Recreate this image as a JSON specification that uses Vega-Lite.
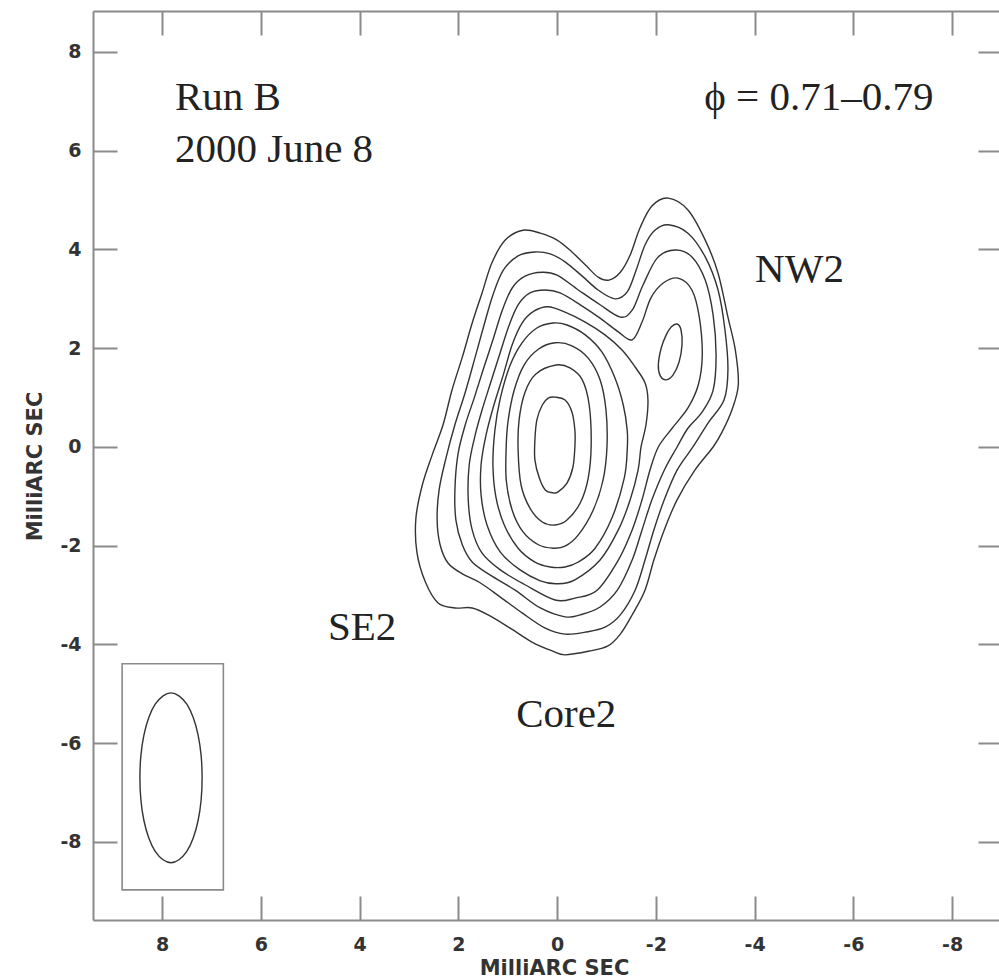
{
  "$schema": "https://vega.github.io/schema/vega-lite/v6.json",
  "width": 906,
  "height": 909,
  "autosize": {"type": "none"},
  "padding": {"left": 93, "top": 11, "right": 0, "bottom": 60},
  "background": "white",
  "config": {"view": {"stroke": null}},
  "datasets": {
    "curves": [
      {"c":"C1","i":1,"x":0.69,"y":4.39},{"c":"C1","i":2,"x":0.34,"y":4.33},{"c":"C1","i":3,"x":0.00,"y":4.19},{"c":"C1","i":4,"x":-0.30,"y":3.95},{"c":"C1","i":5,"x":-0.59,"y":3.67},{"c":"C1","i":6,"x":-0.83,"y":3.44},{"c":"C1","i":7,"x":-1.05,"y":3.38},{"c":"C1","i":8,"x":-1.28,"y":3.54},{"c":"C1","i":9,"x":-1.48,"y":3.89},{"c":"C1","i":10,"x":-1.68,"y":4.44},{"c":"C1","i":11,"x":-1.92,"y":4.88},{"c":"C1","i":12,"x":-2.25,"y":5.04},{"c":"C1","i":13,"x":-2.65,"y":4.80},{"c":"C1","i":14,"x":-3.00,"y":4.19},{"c":"C1","i":15,"x":-3.26,"y":3.52},{"c":"C1","i":16,"x":-3.46,"y":2.63},{"c":"C1","i":17,"x":-3.61,"y":1.96},{"c":"C1","i":18,"x":-3.67,"y":1.26},{"c":"C1","i":19,"x":-3.54,"y":0.75},{"c":"C1","i":20,"x":-3.34,"y":0.30},{"c":"C1","i":21,"x":-3.16,"y":0.00},{"c":"C1","i":22,"x":-2.79,"y":-0.47},{"c":"C1","i":23,"x":-2.43,"y":-1.07},{"c":"C1","i":24,"x":-2.17,"y":-1.68},{"c":"C1","i":25,"x":-1.96,"y":-2.29},{"c":"C1","i":26,"x":-1.78,"y":-2.90},{"c":"C1","i":27,"x":-1.52,"y":-3.40},{"c":"C1","i":28,"x":-1.28,"y":-3.79},{"c":"C1","i":29,"x":-1.03,"y":-4.03},{"c":"C1","i":30,"x":-0.67,"y":-4.13},{"c":"C1","i":31,"x":-0.16,"y":-4.21},{"c":"C1","i":32,"x":0.10,"y":-4.13},{"c":"C1","i":33,"x":0.51,"y":-3.95},{"c":"C1","i":34,"x":0.95,"y":-3.67},{"c":"C1","i":35,"x":1.36,"y":-3.42},{"c":"C1","i":36,"x":1.72,"y":-3.26},{"c":"C1","i":37,"x":2.07,"y":-3.26},{"c":"C1","i":38,"x":2.41,"y":-3.16},{"c":"C1","i":39,"x":2.67,"y":-2.73},{"c":"C1","i":40,"x":2.84,"y":-2.13},{"c":"C1","i":41,"x":2.86,"y":-1.44},{"c":"C1","i":42,"x":2.73,"y":-0.77},{"c":"C1","i":43,"x":2.53,"y":-0.16},{"c":"C1","i":44,"x":2.31,"y":0.45},{"c":"C1","i":45,"x":2.13,"y":1.15},{"c":"C1","i":46,"x":1.92,"y":1.82},{"c":"C1","i":47,"x":1.72,"y":2.51},{"c":"C1","i":48,"x":1.52,"y":3.12},{"c":"C1","i":49,"x":1.32,"y":3.73},{"c":"C1","i":50,"x":1.05,"y":4.19},
      {"c":"C2","i":1,"x":0.45,"y":3.95},{"c":"C2","i":2,"x":0.14,"y":3.91},{"c":"C2","i":3,"x":-0.16,"y":3.75},{"c":"C2","i":4,"x":-0.51,"y":3.46},{"c":"C2","i":5,"x":-0.83,"y":3.18},{"c":"C2","i":6,"x":-1.17,"y":3.00},{"c":"C2","i":7,"x":-1.42,"y":3.14},{"c":"C2","i":8,"x":-1.60,"y":3.58},{"c":"C2","i":9,"x":-1.78,"y":4.09},{"c":"C2","i":10,"x":-1.98,"y":4.39},{"c":"C2","i":11,"x":-2.25,"y":4.50},{"c":"C2","i":12,"x":-2.65,"y":4.33},{"c":"C2","i":13,"x":-3.00,"y":3.85},{"c":"C2","i":14,"x":-3.26,"y":3.18},{"c":"C2","i":15,"x":-3.40,"y":2.37},{"c":"C2","i":16,"x":-3.46,"y":1.56},{"c":"C2","i":17,"x":-3.38,"y":0.95},{"c":"C2","i":18,"x":-3.06,"y":0.49},{"c":"C2","i":19,"x":-2.75,"y":0.00},{"c":"C2","i":20,"x":-2.43,"y":-0.47},{"c":"C2","i":21,"x":-2.17,"y":-1.07},{"c":"C2","i":22,"x":-1.96,"y":-1.68},{"c":"C2","i":23,"x":-1.78,"y":-2.29},{"c":"C2","i":24,"x":-1.58,"y":-2.90},{"c":"C2","i":25,"x":-1.28,"y":-3.40},{"c":"C2","i":26,"x":-0.97,"y":-3.65},{"c":"C2","i":27,"x":-0.57,"y":-3.75},{"c":"C2","i":28,"x":-0.16,"y":-3.79},{"c":"C2","i":29,"x":0.24,"y":-3.67},{"c":"C2","i":30,"x":0.71,"y":-3.36},{"c":"C2","i":31,"x":1.15,"y":-3.04},{"c":"C2","i":32,"x":1.56,"y":-2.75},{"c":"C2","i":33,"x":1.92,"y":-2.57},{"c":"C2","i":34,"x":2.21,"y":-2.35},{"c":"C2","i":35,"x":2.37,"y":-1.98},{"c":"C2","i":36,"x":2.43,"y":-1.48},{"c":"C2","i":37,"x":2.39,"y":-0.87},{"c":"C2","i":38,"x":2.25,"y":-0.22},{"c":"C2","i":39,"x":2.07,"y":0.45},{"c":"C2","i":40,"x":1.86,"y":1.11},{"c":"C2","i":41,"x":1.66,"y":1.82},{"c":"C2","i":42,"x":1.48,"y":2.47},{"c":"C2","i":43,"x":1.30,"y":3.08},{"c":"C2","i":44,"x":1.09,"y":3.58},{"c":"C2","i":45,"x":0.79,"y":3.87},
      {"c":"C3","i":1,"x":0.30,"y":3.54},{"c":"C3","i":2,"x":0.00,"y":3.48},{"c":"C3","i":3,"x":-0.43,"y":3.18},{"c":"C3","i":4,"x":-0.87,"y":2.88},{"c":"C3","i":5,"x":-1.28,"y":2.63},{"c":"C3","i":6,"x":-1.52,"y":2.77},{"c":"C3","i":7,"x":-1.74,"y":3.28},{"c":"C3","i":8,"x":-2.03,"y":3.83},{"c":"C3","i":9,"x":-2.39,"y":3.99},{"c":"C3","i":10,"x":-2.73,"y":3.85},{"c":"C3","i":11,"x":-3.00,"y":3.38},{"c":"C3","i":12,"x":-3.16,"y":2.67},{"c":"C3","i":13,"x":-3.22,"y":1.86},{"c":"C3","i":14,"x":-3.16,"y":1.15},{"c":"C3","i":15,"x":-2.94,"y":0.71},{"c":"C3","i":16,"x":-2.65,"y":0.38},{"c":"C3","i":17,"x":-2.43,"y":0.00},{"c":"C3","i":18,"x":-2.17,"y":-0.47},{"c":"C3","i":19,"x":-1.92,"y":-1.07},{"c":"C3","i":20,"x":-1.72,"y":-1.68},{"c":"C3","i":21,"x":-1.52,"y":-2.29},{"c":"C3","i":22,"x":-1.22,"y":-2.90},{"c":"C3","i":23,"x":-0.87,"y":-3.24},{"c":"C3","i":24,"x":-0.47,"y":-3.40},{"c":"C3","i":25,"x":-0.16,"y":-3.44},{"c":"C3","i":26,"x":0.34,"y":-3.26},{"c":"C3","i":27,"x":0.85,"y":-2.90},{"c":"C3","i":28,"x":1.36,"y":-2.59},{"c":"C3","i":29,"x":1.72,"y":-2.33},{"c":"C3","i":30,"x":1.92,"y":-1.98},{"c":"C3","i":31,"x":2.05,"y":-1.48},{"c":"C3","i":32,"x":2.07,"y":-0.87},{"c":"C3","i":33,"x":2.01,"y":-0.16},{"c":"C3","i":34,"x":1.86,"y":0.45},{"c":"C3","i":35,"x":1.68,"y":0.99},{"c":"C3","i":36,"x":1.50,"y":1.56},{"c":"C3","i":37,"x":1.30,"y":2.17},{"c":"C3","i":38,"x":1.11,"y":2.77},{"c":"C3","i":39,"x":0.91,"y":3.22},{"c":"C3","i":40,"x":0.65,"y":3.46},
      {"c":"C4","i":1,"x":0.24,"y":3.18},{"c":"C4","i":2,"x":-0.06,"y":3.12},{"c":"C4","i":3,"x":-0.47,"y":2.88},{"c":"C4","i":4,"x":-0.87,"y":2.61},{"c":"C4","i":5,"x":-1.24,"y":2.33},{"c":"C4","i":6,"x":-1.52,"y":2.17},{"c":"C4","i":7,"x":-1.72,"y":2.53},{"c":"C4","i":8,"x":-1.90,"y":3.02},{"c":"C4","i":9,"x":-2.15,"y":3.32},{"c":"C4","i":10,"x":-2.45,"y":3.42},{"c":"C4","i":11,"x":-2.73,"y":3.18},{"c":"C4","i":12,"x":-2.88,"y":2.63},{"c":"C4","i":13,"x":-2.94,"y":1.86},{"c":"C4","i":14,"x":-2.86,"y":1.26},{"c":"C4","i":15,"x":-2.65,"y":0.79},{"c":"C4","i":16,"x":-2.33,"y":0.38},{"c":"C4","i":17,"x":-2.05,"y":0.00},{"c":"C4","i":18,"x":-1.88,"y":-0.47},{"c":"C4","i":19,"x":-1.72,"y":-1.07},{"c":"C4","i":20,"x":-1.52,"y":-1.68},{"c":"C4","i":21,"x":-1.24,"y":-2.29},{"c":"C4","i":22,"x":-0.81,"y":-2.90},{"c":"C4","i":23,"x":-0.36,"y":-3.06},{"c":"C4","i":24,"x":0.04,"y":-3.10},{"c":"C4","i":25,"x":0.65,"y":-2.79},{"c":"C4","i":26,"x":1.15,"y":-2.49},{"c":"C4","i":27,"x":1.52,"y":-2.15},{"c":"C4","i":28,"x":1.72,"y":-1.68},{"c":"C4","i":29,"x":1.80,"y":-1.07},{"c":"C4","i":30,"x":1.78,"y":-0.36},{"c":"C4","i":31,"x":1.66,"y":0.24},{"c":"C4","i":32,"x":1.52,"y":0.75},{"c":"C4","i":33,"x":1.36,"y":1.26},{"c":"C4","i":34,"x":1.15,"y":1.92},{"c":"C4","i":35,"x":0.97,"y":2.47},{"c":"C4","i":36,"x":0.79,"y":2.88},{"c":"C4","i":37,"x":0.55,"y":3.12},
      {"c":"C5","i":1,"x":0.18,"y":2.84},{"c":"C5","i":2,"x":-0.16,"y":2.73},{"c":"C5","i":3,"x":-0.57,"y":2.53},{"c":"C5","i":4,"x":-0.97,"y":2.27},{"c":"C5","i":5,"x":-1.32,"y":1.96},{"c":"C5","i":6,"x":-1.58,"y":1.62},{"c":"C5","i":7,"x":-1.78,"y":1.30},{"c":"C5","i":8,"x":-1.84,"y":0.95},{"c":"C5","i":9,"x":-1.80,"y":0.45},{"c":"C5","i":10,"x":-1.70,"y":0.00},{"c":"C5","i":11,"x":-1.64,"y":-0.47},{"c":"C5","i":12,"x":-1.48,"y":-1.07},{"c":"C5","i":13,"x":-1.24,"y":-1.68},{"c":"C5","i":14,"x":-0.87,"y":-2.29},{"c":"C5","i":15,"x":-0.36,"y":-2.69},{"c":"C5","i":16,"x":0.00,"y":-2.77},{"c":"C5","i":17,"x":0.34,"y":-2.71},{"c":"C5","i":18,"x":0.75,"y":-2.49},{"c":"C5","i":19,"x":1.15,"y":-2.13},{"c":"C5","i":20,"x":1.42,"y":-1.58},{"c":"C5","i":21,"x":1.54,"y":-0.97},{"c":"C5","i":22,"x":1.54,"y":-0.36},{"c":"C5","i":23,"x":1.44,"y":0.24},{"c":"C5","i":24,"x":1.28,"y":0.85},{"c":"C5","i":25,"x":1.09,"y":1.46},{"c":"C5","i":26,"x":0.91,"y":2.07},{"c":"C5","i":27,"x":0.71,"y":2.51},{"c":"C5","i":28,"x":0.47,"y":2.75},
      {"c":"C6","i":1,"x":0.08,"y":2.51},{"c":"C6","i":2,"x":-0.20,"y":2.47},{"c":"C6","i":3,"x":-0.57,"y":2.27},{"c":"C6","i":4,"x":-0.91,"y":1.92},{"c":"C6","i":5,"x":-1.17,"y":1.40},{"c":"C6","i":6,"x":-1.34,"y":0.85},{"c":"C6","i":7,"x":-1.42,"y":0.34},{"c":"C6","i":8,"x":-1.42,"y":-0.06},{"c":"C6","i":9,"x":-1.36,"y":-0.63},{"c":"C6","i":10,"x":-1.11,"y":-1.44},{"c":"C6","i":11,"x":-0.77,"y":-2.05},{"c":"C6","i":12,"x":-0.43,"y":-2.33},{"c":"C6","i":13,"x":-0.16,"y":-2.43},{"c":"C6","i":14,"x":0.14,"y":-2.43},{"c":"C6","i":15,"x":0.45,"y":-2.33},{"c":"C6","i":16,"x":0.79,"y":-2.05},{"c":"C6","i":17,"x":1.07,"y":-1.58},{"c":"C6","i":18,"x":1.24,"y":-1.01},{"c":"C6","i":19,"x":1.30,"y":-0.36},{"c":"C6","i":20,"x":1.26,"y":0.34},{"c":"C6","i":21,"x":1.15,"y":0.99},{"c":"C6","i":22,"x":0.95,"y":1.66},{"c":"C6","i":23,"x":0.71,"y":2.11},{"c":"C6","i":24,"x":0.41,"y":2.41},
      {"c":"C7","i":1,"x":0.04,"y":2.11},{"c":"C7","i":2,"x":-0.30,"y":2.05},{"c":"C7","i":3,"x":-0.63,"y":1.80},{"c":"C7","i":4,"x":-0.87,"y":1.36},{"c":"C7","i":5,"x":-0.99,"y":0.75},{"c":"C7","i":6,"x":-1.01,"y":0.00},{"c":"C7","i":7,"x":-0.93,"y":-0.67},{"c":"C7","i":8,"x":-0.73,"y":-1.28},{"c":"C7","i":9,"x":-0.43,"y":-1.78},{"c":"C7","i":10,"x":-0.16,"y":-2.01},{"c":"C7","i":11,"x":0.08,"y":-2.05},{"c":"C7","i":12,"x":0.38,"y":-1.98},{"c":"C7","i":13,"x":0.69,"y":-1.72},{"c":"C7","i":14,"x":0.91,"y":-1.28},{"c":"C7","i":15,"x":1.03,"y":-0.67},{"c":"C7","i":16,"x":1.03,"y":0.04},{"c":"C7","i":17,"x":0.99,"y":0.55},{"c":"C7","i":18,"x":0.87,"y":1.15},{"c":"C7","i":19,"x":0.67,"y":1.66},{"c":"C7","i":20,"x":0.38,"y":1.98},
      {"c":"C8","i":1,"x":0.02,"y":1.66},{"c":"C8","i":2,"x":-0.26,"y":1.60},{"c":"C8","i":3,"x":-0.51,"y":1.36},{"c":"C8","i":4,"x":-0.65,"y":0.85},{"c":"C8","i":5,"x":-0.69,"y":0.04},{"c":"C8","i":6,"x":-0.63,"y":-0.63},{"c":"C8","i":7,"x":-0.47,"y":-1.13},{"c":"C8","i":8,"x":-0.20,"y":-1.48},{"c":"C8","i":9,"x":0.04,"y":-1.58},{"c":"C8","i":10,"x":0.30,"y":-1.52},{"c":"C8","i":11,"x":0.55,"y":-1.24},{"c":"C8","i":12,"x":0.73,"y":-0.77},{"c":"C8","i":13,"x":0.79,"y":-0.06},{"c":"C8","i":14,"x":0.77,"y":0.55},{"c":"C8","i":15,"x":0.65,"y":1.11},{"c":"C8","i":16,"x":0.43,"y":1.48},
      {"c":"C9","i":1,"x":0.04,"y":1.01},{"c":"C9","i":2,"x":-0.16,"y":0.95},{"c":"C9","i":3,"x":-0.30,"y":0.71},{"c":"C9","i":4,"x":-0.36,"y":0.34},{"c":"C9","i":5,"x":-0.36,"y":0.00},{"c":"C9","i":6,"x":-0.32,"y":-0.41},{"c":"C9","i":7,"x":-0.20,"y":-0.73},{"c":"C9","i":8,"x":-0.02,"y":-0.91},{"c":"C9","i":9,"x":0.08,"y":-0.93},{"c":"C9","i":10,"x":0.24,"y":-0.87},{"c":"C9","i":11,"x":0.36,"y":-0.63},{"c":"C9","i":12,"x":0.45,"y":-0.26},{"c":"C9","i":13,"x":0.45,"y":0.14},{"c":"C9","i":14,"x":0.41,"y":0.55},{"c":"C9","i":15,"x":0.30,"y":0.85},{"c":"C9","i":16,"x":0.18,"y":0.99},
      {"c":"N5","i":1,"x":-2.43,"y":2.49},{"c":"N5","i":2,"x":-2.51,"y":2.37},{"c":"N5","i":3,"x":-2.53,"y":2.07},{"c":"N5","i":4,"x":-2.47,"y":1.72},{"c":"N5","i":5,"x":-2.35,"y":1.46},{"c":"N5","i":6,"x":-2.21,"y":1.36},{"c":"N5","i":7,"x":-2.09,"y":1.44},{"c":"N5","i":8,"x":-2.05,"y":1.66},{"c":"N5","i":9,"x":-2.11,"y":2.01},{"c":"N5","i":10,"x":-2.21,"y":2.27},{"c":"N5","i":11,"x":-2.31,"y":2.43},
      {"c":"BEAM","i":1,"x":8.45,"y":-6.70},{"c":"BEAM","i":2,"x":8.43,"y":-6.25},{"c":"BEAM","i":3,"x":8.37,"y":-5.84},{"c":"BEAM","i":4,"x":8.27,"y":-5.48},{"c":"BEAM","i":5,"x":8.14,"y":-5.21},{"c":"BEAM","i":6,"x":7.98,"y":-5.04},{"c":"BEAM","i":7,"x":7.82,"y":-4.98},{"c":"BEAM","i":8,"x":7.66,"y":-5.04},{"c":"BEAM","i":9,"x":7.50,"y":-5.21},{"c":"BEAM","i":10,"x":7.37,"y":-5.48},{"c":"BEAM","i":11,"x":7.27,"y":-5.84},{"c":"BEAM","i":12,"x":7.21,"y":-6.25},{"c":"BEAM","i":13,"x":7.19,"y":-6.70},{"c":"BEAM","i":14,"x":7.21,"y":-7.15},{"c":"BEAM","i":15,"x":7.27,"y":-7.56},{"c":"BEAM","i":16,"x":7.37,"y":-7.92},{"c":"BEAM","i":17,"x":7.50,"y":-8.19},{"c":"BEAM","i":18,"x":7.66,"y":-8.36},{"c":"BEAM","i":19,"x":7.82,"y":-8.42},{"c":"BEAM","i":20,"x":7.98,"y":-8.36},{"c":"BEAM","i":21,"x":8.14,"y":-8.19},{"c":"BEAM","i":22,"x":8.27,"y":-7.92},{"c":"BEAM","i":23,"x":8.37,"y":-7.56},{"c":"BEAM","i":24,"x":8.43,"y":-7.15}
    ],
    "box": [{"x1": 8.81, "x2": 6.76, "y1": -4.39, "y2": -8.97}],
    "labels": [
      {"t": "Run B", "x": 7.74, "y": 6.83},
      {"t": "2000 June 8", "x": 7.74, "y": 5.77},
      {"t": "ϕ = 0.71–0.79", "x": -2.98, "y": 6.83},
      {"t": "NW2", "x": -4.01, "y": 3.34},
      {"t": "SE2", "x": 4.64, "y": -3.91},
      {"t": "Core2", "x": 0.83, "y": -5.67}
    ]
  },
  "layer": [
    {
      "data": {"name": "curves"},
      "mark": {"type": "line", "interpolate": "cardinal-closed", "stroke": "#333333", "strokeWidth": 1.4},
      "encoding": {
        "x": {"field": "x", "type": "quantitative",
          "scale": {"domain": [9.40, -8.95], "nice": false, "zero": false},
          "axis": {"orient": "bottom", "values": [-8,-6,-4,-2,0,2,4,6,8], "labelExpr": "'' + datum.value",
            "tickSize": -24, "tickWidth": 2, "tickColor": "#8a8a8a", "domain": true, "domainColor": "#8a8a8a", "domainWidth": 2, "grid": false,
            "labelFont": "DejaVu Sans", "labelFontWeight": "bold", "labelFontSize": 19, "labelColor": "#333333", "labelPadding": 39,
            "title": "MilliARC SEC", "titleFont": "DejaVu Sans", "titleFontWeight": "bold", "titleFontSize": 21, "titleColor": "#333333",
            "titleX": 461, "titleY": 48, "titleBaseline": "middle", "titleAlign": "center"}},
        "y": {"field": "y", "type": "quantitative",
          "scale": {"domain": [-9.58, 8.83], "nice": false, "zero": false},
          "axis": {"orient": "left", "values": [-8,-6,-4,-2,0,2,4,6,8], "labelExpr": "'' + datum.value",
            "tickSize": -24, "tickWidth": 2, "tickColor": "#8a8a8a", "domain": true, "domainColor": "#8a8a8a", "domainWidth": 2, "grid": false,
            "labelFont": "DejaVu Sans", "labelFontWeight": "bold", "labelFontSize": 19, "labelColor": "#333333", "labelPadding": 36,
            "title": "MilliARC SEC", "titleFont": "DejaVu Sans", "titleFontWeight": "bold", "titleFontSize": 21, "titleColor": "#333333",
            "titleX": -58, "titleY": 455, "titleBaseline": "middle", "titleAlign": "center", "titleAngle": 270}},
        "detail": {"field": "c", "type": "nominal"},
        "order": {"field": "i", "type": "quantitative"}
      }
    },
    {
      "data": {"name": "box"},
      "mark": {"type": "rect", "fillOpacity": 0, "stroke": "#8a8a8a", "strokeWidth": 1.6},
      "encoding": {
        "x": {"field": "x1", "type": "quantitative",
          "axis": {"orient": "top", "values": [-8,-6,-4,-2,0,2,4,6,8], "labels": false, "title": null,
            "tickSize": -24, "tickWidth": 2, "tickColor": "#8a8a8a", "domain": true, "domainColor": "#8a8a8a", "domainWidth": 2, "grid": false}},
        "x2": {"field": "x2"},
        "y": {"field": "y1", "type": "quantitative",
          "axis": {"orient": "right", "values": [-8,-6,-4,-2,0,2,4,6,8], "labels": false, "title": null,
            "tickSize": -21, "tickWidth": 2, "tickColor": "#8a8a8a", "domain": false, "grid": false}},
        "y2": {"field": "y2"}
      }
    },
    {
      "data": {"name": "labels"},
      "mark": {"type": "text", "align": "left", "baseline": "alphabetic", "font": "Liberation Serif", "fontSize": 41, "color": "#222222"},
      "encoding": {
        "x": {"field": "x", "type": "quantitative", "axis": null},
        "y": {"field": "y", "type": "quantitative", "axis": null},
        "text": {"field": "t"}
      }
    }
  ],
  "resolve": {"axis": {"x": "independent", "y": "independent"}}
}
